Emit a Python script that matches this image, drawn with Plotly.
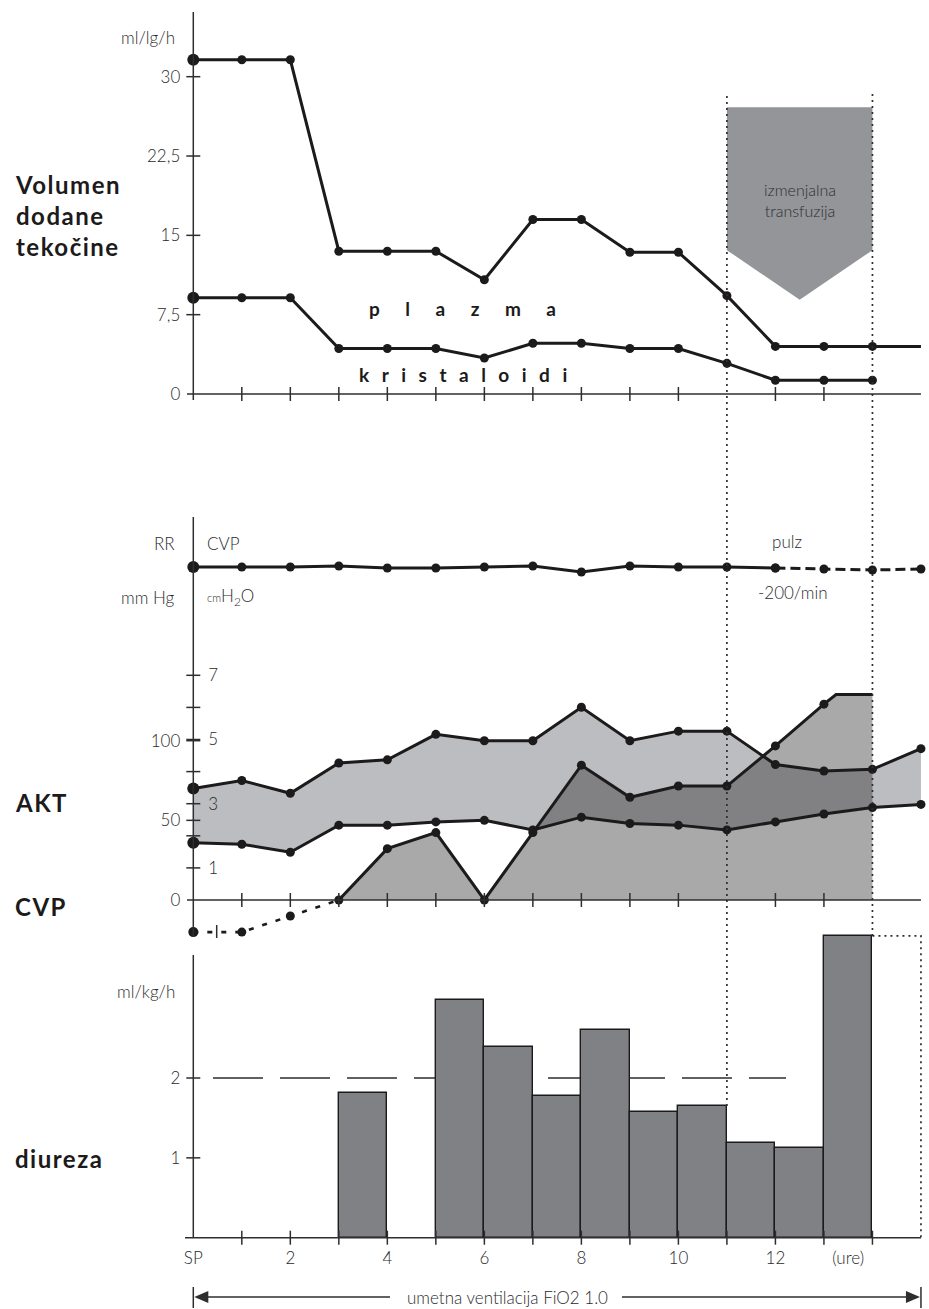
import plotly.graph_objects as go

W, H = 929, 1309

# ---------------------------------------------------------------- data
hours = list(range(0, 16))                      # SP = 0 ... 15 h

# volume of added fluid, ml/kg/h
plazma = [31.6, 31.6, 31.6, 13.5, 13.5, 13.5, 10.8, 16.5, 16.5, 13.4, 13.4, 9.3, 4.5, 4.5, 4.5, 4.5]
kristaloidi = [9.1, 9.1, 9.1, 4.3, 4.3, 4.3, 3.4, 4.8, 4.8, 4.3, 4.3, 2.9, 1.3, 1.3, 1.3]
vol_ticks = [0, 7.5, 15, 22.5, 30]
vol_ticktext = ["0", "7,5", "15", "22,5", "30"]

# exchange transfusion block (hours 11-14)
transf_start, transf_end = 11, 14
transf_top, transf_shoulder, transf_tip = 27.1, 13.6, 8.9

# heart rate (/min), arterial pressure (mm Hg), CVP (cm H2O)
pulz = [200, 200, 200, 201, 199, 199, 200, 201, 195, 201, 200, 200, 199, 198, 197, 198]
pulz_solid_until = 12
akt_sys = [70, 75, 67, 86, 88, 104, 100, 100, 121, 100, 106, 106, 85, 81, 82, 95]
akt_dia = [36, 35, 30, 47, 47, 49, 50, 44, 52, 48, 47, 44, 49, 54, 58, 60]
cvp_hours = [0, 1, 2, 3, 4, 5, 6, 7, 8, 9, 10, 11, 12, 13, 13.25, 14]
cvp = [-1.0, -1.0, -0.5, 0, 1.6, 2.1, 0, 2.1, 4.2, 3.2, 3.55, 3.55, 4.8, 6.1, 6.4, 6.4]
mmhg_ticks = [0, 50, 100]
cvp_ticks = [1, 3, 5, 7]
cvp_minor = [1, 2, 3, 4, 5, 6, 7]

# urine output, ml/kg/h, per hour interval starting at diureza_hours
diureza_hours = [3, 5, 6, 7, 8, 9, 10, 11, 12, 13]
diureza = [1.81, 2.98, 2.39, 1.77, 2.60, 1.57, 1.65, 1.18, 1.12, 3.78]
diureza_target = 2.0
diureza_ticks = [1, 2]

x_tickvals = [0, 2, 4, 6, 8, 10, 12, 13.5]
x_ticktext = ["SP", "2", "4", "6", "8", "10", "12", "(ure)"]

# ---------------------------------------------------------------- geometry
BLACK = "#1c1a1b"
AXIS = "#2e2e30"
TEXT = "#2a2a2c"
LIGHT = dict(family="Lato", size=17, color=TEXT, weight=300)
BOLD = dict(family="Lato", size=24, color=BLACK, weight=700)
LW = 3.0
MS, MS0 = 9, 12

X0_PX, PX_PER_H = 193.3, 48.51


def hx(px):
    return (px - X0_PX) / PX_PER_H


def py(p):
    return 1 - p / H


TOP, MID, BOT = (0, 440), (500, 945), (930, 1250)


def dom(panel):
    return [1 - panel[1] / H, 1 - panel[0] / H]


def rng(panel, zero_px, ppu, base=0.0):
    return [base + (zero_px - panel[1]) / ppu, base + (zero_px - panel[0]) / ppu]


fig = go.Figure()
skip = dict(hoverinfo="skip", showlegend=False)


def dots(size):
    return dict(color=BLACK, size=size, opacity=1, line=dict(width=0))


# ---------------------------------------------------------------- top panel
tx = [transf_start, transf_end, transf_end, (transf_start + transf_end) / 2, transf_start, transf_start]
ty = [transf_top, transf_top, transf_shoulder, transf_tip, transf_shoulder, transf_top]
fig.add_trace(go.Scatter(x=tx, y=ty, mode="lines", fill="toself", fillcolor="#939598",
                         line=dict(width=0), yaxis="y", **skip))


def sizes(n, last_hidden=False):
    s = [MS0] + [MS] * (n - 1)
    if last_hidden:
        s[-1] = 0
    return s


fig.add_trace(go.Scatter(x=hours, y=plazma, mode="lines+markers", yaxis="y",
                         line=dict(color=BLACK, width=LW),
                         marker=dots(sizes(len(plazma), True)), **skip))
fig.add_trace(go.Scatter(x=hours[:len(kristaloidi)], y=kristaloidi, mode="lines+markers", yaxis="y",
                         line=dict(color=BLACK, width=LW),
                         marker=dots(sizes(len(kristaloidi))), **skip))

# ---------------------------------------------------------------- middle panel
fig.add_trace(go.Scatter(x=hours, y=akt_dia, mode="lines", line=dict(width=0), yaxis="y2", **skip))
fig.add_trace(go.Scatter(x=hours, y=akt_sys, mode="lines", line=dict(width=0), fill="tonexty",
                         fillcolor="#bcbdc0", yaxis="y2", **skip))

pos_idx = [i for i, h in enumerate(cvp_hours) if h >= 3]
cx = [cvp_hours[i] for i in pos_idx]
cy = [cvp[i] for i in pos_idx]
fig.add_trace(go.Scatter(x=cx, y=cy, mode="lines", line=dict(width=0), fill="tozeroy",
                         fillcolor="rgba(39,40,43,0.40)", yaxis="y3", **skip))
csz = [MS if float(h).is_integer() and h < 14 else 0 for h in cx]
fig.add_trace(go.Scatter(x=cx, y=cy, mode="lines+markers", yaxis="y3",
                         line=dict(color=BLACK, width=LW), marker=dots(csz), **skip))
neg_idx = [i for i, h in enumerate(cvp_hours) if h <= 3]
fig.add_trace(go.Scatter(x=[cvp_hours[i] for i in neg_idx], y=[cvp[i] for i in neg_idx],
                         mode="lines+markers", yaxis="y3",
                         line=dict(color=BLACK, width=2.6, dash="5px,9px"),
                         marker=dots([MS + 1, MS, MS, 0]), **skip))

for series in (akt_sys, akt_dia):
    fig.add_trace(go.Scatter(x=hours, y=series, mode="lines+markers", yaxis="y4",
                             line=dict(color=BLACK, width=LW),
                             marker=dots(sizes(len(series))), **skip))

k = hours.index(pulz_solid_until)
fig.add_trace(go.Scatter(x=hours[:k + 1], y=pulz[:k + 1], mode="lines+markers", yaxis="y5",
                         line=dict(color=BLACK, width=LW),
                         marker=dots(sizes(k + 1)), **skip))
fig.add_trace(go.Scatter(x=hours[k:], y=pulz[k:], mode="lines+markers", yaxis="y5",
                         line=dict(color=BLACK, width=LW, dash="10px,5px"),
                         marker=dots(MS), **skip))

# ---------------------------------------------------------------- bottom panel
fig.add_trace(go.Bar(x=[h + 0.5 for h in diureza_hours], y=diureza, width=1, yaxis="y6",
                     marker=dict(color="#808185", line=dict(color=BLACK, width=1.4)), **skip))
last_h, last_v = diureza_hours[-1] + 1, diureza[-1]
fig.add_trace(go.Scatter(x=[last_h, last_h + 1, last_h + 1], y=[last_v, last_v, 0], mode="lines",
                         yaxis="y6", line=dict(color=AXIS, width=1.7, dash="2px,4px"), **skip))

# ---------------------------------------------------------------- shapes
shapes = []
AX_LINE = dict(color=AXIS, width=1.5)


def vline(x, p_top, p_bot, line=AX_LINE, layer="above"):
    shapes.append(dict(type="line", xref="x", yref="paper", x0=x, x1=x,
                       y0=py(p_bot), y1=py(p_top), line=line, layer=layer))


def hline(yref, y, x0, x1, line=AX_LINE, layer="above"):
    shapes.append(dict(type="line", xref="x", yref=yref, x0=x0, x1=x1, y0=y, y1=y,
                       line=line, layer=layer))


def ytick(yref, v, left=7, right=7):
    shapes.append(dict(type="line", xref="x", yref=yref, xsizemode="pixel", xanchor=0,
                       x0=-left, x1=right, y0=v, y1=v, line=AX_LINE))


def xtick(yref, h, half=7):
    shapes.append(dict(type="line", xref="x", yref=yref, ysizemode="pixel", yanchor=0,
                       x0=h, x1=h, y0=-half, y1=half, line=AX_LINE))


hour_ticks = [h for h in range(1, 14) if h != 11]

# top
vline(0, 12, 400)
hline("y", 0, hx(187), 15)
for v in vol_ticks[1:]:
    ytick("y", v)
for h in hour_ticks:
    xtick("y", h)

# middle
vline(0, 517, 937)
hline("y3", 0, hx(187), 15)
for v in cvp_minor:
    ytick("y3", v)
for v in mmhg_ticks[1:]:
    ytick("y2", v)
for h in hour_ticks:
    xtick("y3", h)
vline(hx(216.7), 925, 938)

# bottom
vline(0, 955, 1238)
hline("y6", diureza_target, hx(213), hx(786), line=dict(color=AXIS, width=1.3, dash="50px,17px"),
      layer="below")
hline("y6", 0, hx(185), 15)
for v in diureza_ticks:
    ytick("y6", v)
for h in range(1, 15):
    xtick("y6", h)

# transfusion period markers
DOT = dict(color=AXIS, width=1.7, dash="2px,4px")
vline(transf_start, 93, 1106, line=DOT)
vline(transf_end, 93, 936, line=DOT)

# ventilation span: end bars, shafts and arrowheads
ARROW = dict(color=AXIS, width=1.5)
vline(0, 1287, 1308, line=ARROW)
vline(15, 1287, 1308, line=ARROW)
y_arrow = py(1297)
shapes.append(dict(type="line", xref="x", yref="paper", x0=hx(205), x1=hx(390),
                   y0=y_arrow, y1=y_arrow, line=ARROW))
shapes.append(dict(type="line", xref="x", yref="paper", x0=hx(622), x1=hx(908),
                   y0=y_arrow, y1=y_arrow, line=ARROW))
for x_tip, path in ((0, "M1,0 L15,6 L15,-6 Z"), (15, "M-1,0 L-15,6 L-15,-6 Z")):
    shapes.append(dict(type="path", xref="x", yref="paper", xsizemode="pixel", ysizemode="pixel",
                       xanchor=x_tip, yanchor=y_arrow, path=path,
                       fillcolor=AXIS, line=dict(width=0)))

# ---------------------------------------------------------------- annotations
ann = []


def label(text, px, p, xanchor="left", font=LIGHT, **kw):
    ann.append(dict(text=text, xref="paper", yref="paper", x=px / W, y=py(p), xanchor=xanchor,
                    yanchor="middle", showarrow=False, font=font, **kw))


def spaced(text, px):
    return '<span style="letter-spacing:%spx">%s</span>' % (px, text)


label(spaced("Volumen", 1.5) + "<br>" + spaced("dodane", 1.5) + "<br>" + spaced("tekočine", 1.5),
      13, 215, font=BOLD, align="left")
label(spaced("AKT", 1.5), 13, 802, font=BOLD)
label(spaced("CVP", 1.5), 13, 906, font=BOLD)
label(spaced("diureza", 1.5), 13, 1158, font=BOLD)

label("ml/lg/h", 177, 38, xanchor="right")
label("RR", 177, 543, xanchor="right")
label("CVP", 205, 543)
label("mm Hg", 177, 597, xanchor="right")
label('<span style="font-size:11px">cm</span>H<sub>2</sub>O', 205, 597)
label("pulz", 787, 541, xanchor="center")
label("-200/min", 793, 592, xanchor="center")
label("ml/kg/h", 177, 991, xanchor="right")

SPACED = dict(family="Lato", size=19, color=BLACK, weight=700)
label(spaced("plazma", 25.5), 367, 308, font=SPACED)
label(spaced("kristaloidi", 12.5), 357, 374, font=SPACED)

ann.append(dict(text="izmenjalna<br>transfuzija", xref="x", yref="paper",
                x=(transf_start + transf_end) / 2, y=py(200), xanchor="center", yanchor="middle",
                showarrow=False, font=dict(family="Lato", size=16, color="#2e2e30", weight=300)))

label("umetna ventilacija FiO2 1.0", 507, 1297, xanchor="center")

# ---------------------------------------------------------------- layout
hidden = dict(showgrid=False, zeroline=False, showline=False, ticks="")
fig.update_layout(
    width=W, height=H, margin=dict(l=0, r=0, t=0, b=0, pad=0),
    paper_bgcolor="white", plot_bgcolor="rgba(0,0,0,0)",
    showlegend=False, font=LIGHT, bargap=0,
    xaxis=dict(range=[hx(0), hx(W)], anchor="free", position=py(1238), tickvals=x_tickvals,
               ticktext=x_ticktext, ticklabelstandoff=8, tickfont=LIGHT, **hidden),
    yaxis=dict(domain=dom(TOP), range=rng(TOP, 394, 10.577), anchor="free", position=X0_PX / W,
               tickvals=vol_ticks, ticktext=vol_ticktext, ticklabelstandoff=13, tickfont=LIGHT, **hidden),
    yaxis2=dict(domain=dom(MID), range=rng(MID, 900, 1.593), anchor="free", position=X0_PX / W,
                tickvals=mmhg_ticks, ticktext=[str(v) for v in mmhg_ticks], ticklabelstandoff=13,
                tickfont=LIGHT, **hidden),
    yaxis3=dict(overlaying="y2", range=rng(MID, 900, 32.1), anchor="free", position=X0_PX / W,
                side="right", tickvals=cvp_ticks, ticktext=[str(v) for v in cvp_ticks],
                ticklabelstandoff=14, tickfont=LIGHT, **hidden),
    yaxis4=dict(overlaying="y2", range=rng(MID, 900, 1.593), showticklabels=False, **hidden),
    yaxis5=dict(overlaying="y2", range=rng(MID, 567, 1.0, base=200), showticklabels=False, **hidden),
    yaxis6=dict(domain=dom(BOT), range=rng(BOT, 1237.7, 79.85), anchor="free", position=X0_PX / W,
                tickvals=diureza_ticks, ticktext=[str(v) for v in diureza_ticks], ticklabelstandoff=13,
                tickfont=LIGHT, **hidden),
    shapes=shapes, annotations=ann,
)

fig.write_html("out.html")
